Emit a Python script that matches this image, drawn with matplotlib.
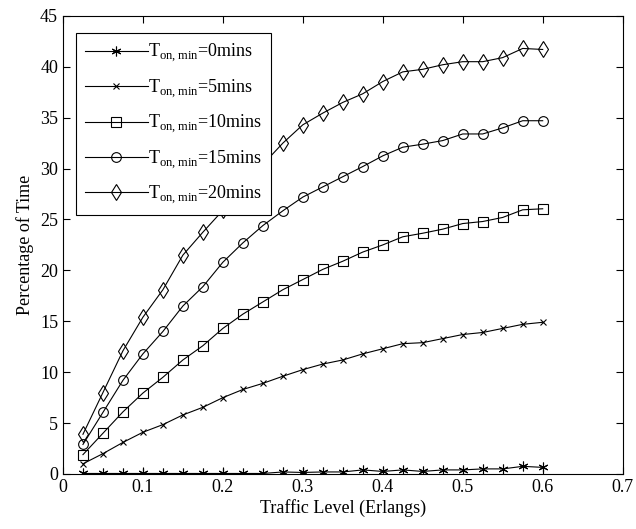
import numpy as np
import matplotlib
matplotlib.use('Agg')
import matplotlib.pyplot as plt

plt.rcParams['font.family'] = 'Liberation Serif'
plt.rcParams['mathtext.fontset'] = 'custom'
plt.rcParams['mathtext.rm'] = 'Liberation Serif'

# traffic levels (Erlangs)
traffic = [0.025, 0.05, 0.075, 0.1, 0.125, 0.15, 0.175, 0.2, 0.225, 0.25,
           0.275, 0.3, 0.325, 0.35, 0.375, 0.4, 0.425, 0.45, 0.475, 0.5,
           0.525, 0.55, 0.575, 0.6]

# percentage of time for each T_on,min
t0 = [0.05, 0.05, 0.05, 0.05, 0.05, 0.05, 0.05, 0.05, 0.05, 0.05,
      0.2, 0.15, 0.2, 0.2, 0.4, 0.25, 0.4, 0.25, 0.4, 0.4,
      0.5, 0.5, 0.75, 0.65]
t5 = [1.0, 2.0, 3.1, 4.1, 4.85, 5.8, 6.55, 7.5, 8.3, 8.9,
      9.6, 10.25, 10.8, 11.2, 11.8, 12.3, 12.8, 12.9, 13.3, 13.7,
      13.9, 14.3, 14.7, 14.9]
t10 = [1.9, 4.0, 6.1, 7.95, 9.5, 11.2, 12.6, 14.3, 15.7, 16.9,
       18.1, 19.1, 20.1, 20.9, 21.8, 22.5, 23.3, 23.65, 24.05, 24.6,
       24.8, 25.2, 25.95, 26.05]
t15 = [2.9, 6.05, 9.2, 11.8, 14.0, 16.5, 18.4, 20.8, 22.7, 24.4,
       25.85, 27.2, 28.2, 29.2, 30.2, 31.25, 32.1, 32.4, 32.75, 33.4,
       33.4, 34.0, 34.7, 34.7]
t20 = [3.9, 8.0, 12.1, 15.4, 18.1, 21.5, 23.75, 25.9, 28.2, 30.4,
       32.5, 34.3, 35.45, 36.5, 37.35, 38.55, 39.5, 39.75, 40.2, 40.5,
       40.5, 40.9, 41.8, 41.7]

series = [t0, t5, t10, t15, t20]
labels = [r'T$_{\mathrm{on,min}}$=0mins', r'T$_{\mathrm{on,min}}$=5mins',
          r'T$_{\mathrm{on,min}}$=10mins', r'T$_{\mathrm{on,min}}$=15mins',
          r'T$_{\mathrm{on,min}}$=20mins']
# (6, 2, 0) is a six-armed asterisk like MATLAB's '*'
markers = [(6, 2, 0), 'x', 's', 'o', 'd']
sizes = [7, 4, 7, 7, 8]

fig = plt.figure(figsize=(6.36, 5.29), dpi=100)
ax = fig.add_axes([0.099, 0.104, 0.88, 0.866])

for y, lab, m, ms in zip(series, labels, markers, sizes):
    ax.plot(traffic, y, color='black', linewidth=0.8, marker=m,
            markersize=ms, markerfacecolor='none', markeredgecolor='black',
            markeredgewidth=0.8, label=lab)

ax.set_xlim(0, 0.7)
ax.set_ylim(0, 45)
ax.set_xticks(np.arange(0, 0.71, 0.1))
ax.set_xticklabels(['0', '0.1', '0.2', '0.3', '0.4', '0.5', '0.6', '0.7'])
ax.set_yticks(range(0, 46, 5))
ax.tick_params(direction='in', top=True, right=True, labelsize=13, length=5)
ax.set_xlabel('Traffic Level (Erlangs)', fontsize=13, labelpad=2)
ax.set_ylabel('Percentage of Time', fontsize=13, labelpad=4)

leg = ax.legend(loc='upper left', fontsize=13, handlelength=3.5,
                fancybox=False, edgecolor='black', framealpha=1,
                borderpad=0.5, labelspacing=0.72, handletextpad=0.0,
                borderaxespad=0, bbox_to_anchor=(0.023, 0.963))
leg.get_frame().set_linewidth(0.8)

plt.savefig('out.png', dpi=100)
